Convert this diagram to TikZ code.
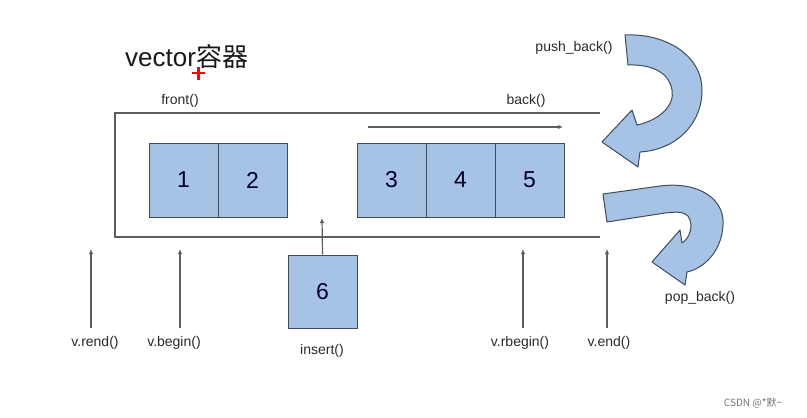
\documentclass[tikz,border=0pt]{standalone}
\usepackage{fontspec}
\setmainfont{Liberation Sans}
\newfontfamily\cjk{Noto Sans CJK SC}
\usetikzlibrary{arrows.meta}
\definecolor{boxfill}{HTML}{A6C3E5}
\definecolor{boxline}{HTML}{3E4C5E}
\definecolor{lineg}{HTML}{5E5E5E}
\definecolor{txt}{HTML}{2A2A2A}
\tikzset{
  cell/.style={draw=boxline, fill=boxfill, line width=1pt, minimum width=69pt, minimum height=74pt, inner sep=0pt,
    font=\fontsize{23}{26}\selectfont, text=black!85!blue},
  lbl/.style={font=\fontsize{14}{16}\selectfont, text=txt, inner sep=1pt},
  wall/.style={draw=lineg, line width=1.5pt},
  arr/.style={draw=lineg, line width=1.2pt, -{Latex[length=5pt,width=4.5pt]}},
  bigarrow/.style={draw=boxline, fill=boxfill, line width=1pt, line join=round}
}
\begin{document}
\begin{tikzpicture}[x=1pt,y=-1pt]
\useasboundingbox (0,0) rectangle (807,418);
% title
\node[anchor=base west, inner sep=0pt, text=black!90] (title) at (125,66) {\fontsize{26}{30}\selectfont vector{\cjk 容器}};
\draw[red, line width=2.2pt] (192,73) -- (205,73) (198.5,66.5) -- (198.5,79.5);
% container
\draw[wall] (600,113) -- (115,113) -- (115,237) -- (600,237);
% cells
\node[cell] (c1) at (183.5,180) {1};
\node[cell] (c2) at (252.5,180) {2};
\node[cell] (c3) at (391.5,180) {3};
\node[cell] (c4) at (460.5,180) {4};
\node[cell] (c5) at (529.5,180) {5};
\node[cell, minimum height=73pt] (c6) at (322.5,291.5) {6};
% labels
\node[lbl] (front) at (180,101) {front()};
\node[lbl] (back) at (526,101) {back()};
\node[lbl] (push) at (574,48) {push\_back()};
\node[lbl] (pop) at (700,298) {pop\_back()};
\node[lbl] (ins) at (322,351) {insert()};
\node[lbl] (rend) at (95,343) {v.rend()};
\node[lbl] (begin) at (174,343) {v.begin()};
\node[lbl] (rbegin) at (520,343) {v.rbegin()};
\node[lbl] (endl) at (609,343) {v.end()};
\node[inner sep=0pt, text=black!55, font=\cjk\fontsize{10}{12}\selectfont] (wm) at (753,403) {CSDN @*默\textasciitilde};
% back arrow inside
\coordinate (ba0) at (368,127);
\coordinate (ba1) at (563,127);
\draw[arr] (ba0) -- (ba1);
% insert arrow
\coordinate (insT) at (322,218);
\draw[arr] (c6.north) -- (insT);
% iterator arrows
\coordinate (rendB) at (91,328); \coordinate (rendT) at (91,249);
\coordinate (beginB) at (180,328); \coordinate (beginT) at (180,249);
\coordinate (rbeginB) at (523,328); \coordinate (rbeginT) at (523,249);
\coordinate (endB) at (607,328); \coordinate (endT) at (607,249);
\draw[arr] (rendB) -- (rendT);
\draw[arr] (beginB) -- (beginT);
\draw[arr] (rbeginB) -- (rbeginT);
\draw[arr] (endB) -- (endT);
% push_back curved arrow
\path[bigarrow] (625,35) .. controls (665,33) and (702,55) .. (702,90)
  .. controls (702,125) and (675,150) .. (640,152)
  -- (638,167) -- (602,142) -- (632,110) -- (637,125)
  .. controls (660,120) and (675,105) .. (672,90)
  .. controls (670,75) and (655,64) .. (628,65) -- cycle;
% pop_back curved arrow
\path[bigarrow] (603,194) -- (660,186) .. controls (700,181) and (725,200) .. (723,225)
  .. controls (722,250) and (705,268) .. (687,272)
  -- (685,285) -- (652,262) -- (680,230) -- (682,243)
  .. controls (690,238) and (694,225) .. (688,216)
  .. controls (683,211) and (675,212) .. (665,213) -- (607,222) -- cycle;
\end{tikzpicture}
\end{document}
